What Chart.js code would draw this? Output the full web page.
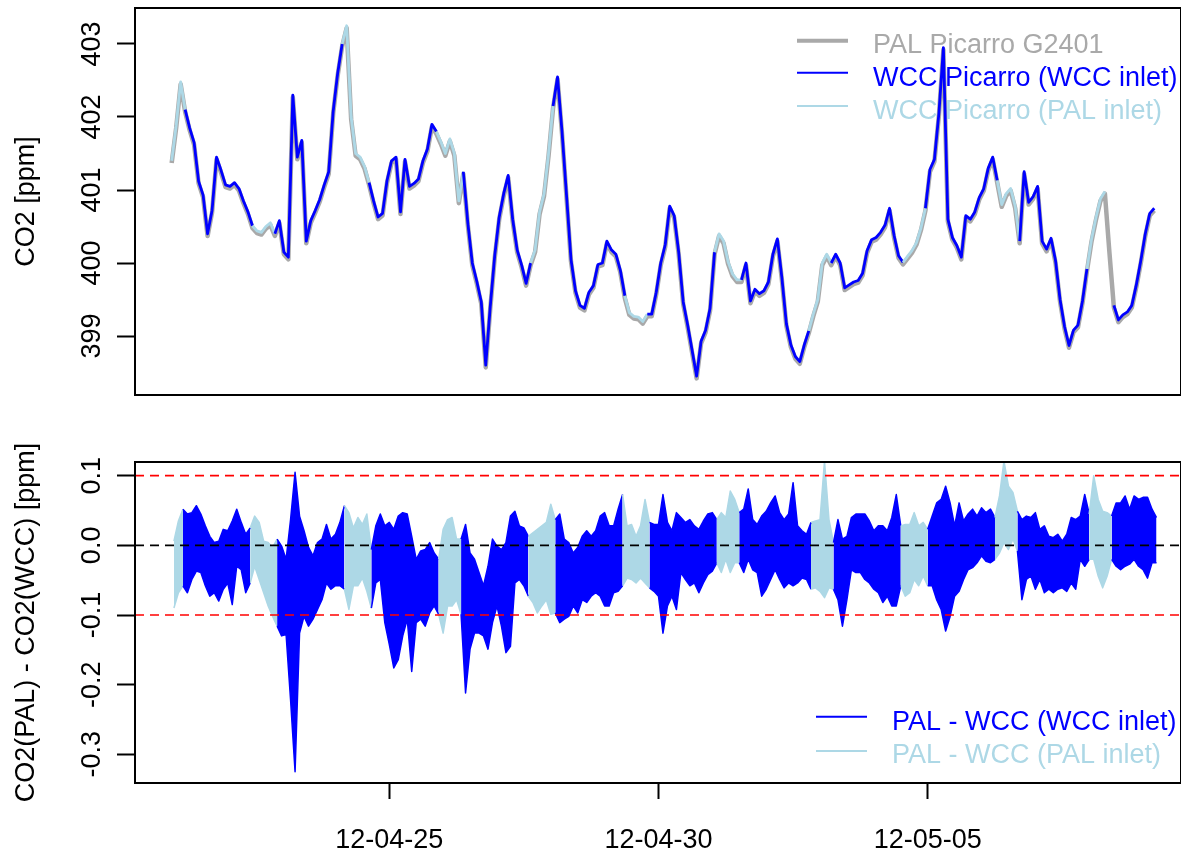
<!DOCTYPE html>
<html>
<head>
<meta charset="utf-8">
<script src="https://cdn.jsdelivr.net/npm/chart.js@4.4.0/dist/chart.umd.min.js"></script>
<style>
  html, body { margin: 0; padding: 0; background: #fff; overflow: hidden; }
  #wrap { position: relative; width: 1181px; height: 851px; }
  canvas { position: absolute; left: 0; }
  #co2 { top: 0; }
  #diff { top: 430px; }
</style>
</head>
<body>
<div id="wrap">
  <canvas id="co2" width="1181" height="430"></canvas>
  <canvas id="diff" width="1181" height="421"></canvas>
</div>
<script>
// ---- time base: 2-hourly values from the series start ----
const seriesStart = '2012-04-20 23:00';
const stepHours = 2;

// CO2 at the WCC Picarro [ppm] (null = no record)
const co2WCC = [
  401.40, 401.88, 402.48, 402.10, 401.85, 401.65, 401.12, 400.93, 400.40, 400.72,
  401.45, 401.27, 401.07, 401.05, 401.10, 401.02, 400.85, 400.70, 400.51, 400.44,
  400.42, 400.50, 400.55, 400.40, 400.58, 400.15, 400.08, 402.30, 401.45, 401.68,
  400.30, 400.58, 400.72, 400.87, 401.07, 401.25, 402.08, 402.60, 403.00, 403.25,
  402.00, 401.50, 401.45, 401.32, 401.10, 400.85, 400.63, 400.68, 401.13, 401.40,
  401.45, 400.70, 401.42, 401.05, 401.09, 401.15, 401.40, 401.56, 401.90, 401.80,
  401.66, 401.50, 401.70, 401.50, 400.85, 401.25, 400.55, 400.00, 399.75, 399.47,
  398.60, 399.40, 400.10, 400.63, 400.95, 401.20, 400.60, 400.18, 399.97, 399.72,
  400.00, 400.18, 400.70, 400.95, 401.50, 402.15, 402.55, 401.80, 400.93, 400.05,
  399.62, 399.42, 399.38, 399.60, 399.69, 399.98, 400.00, 400.30, 400.18, 400.12,
  399.90, 399.55, 399.32, 399.27, 399.26, 399.20, 399.30, 399.30, 399.60, 400.00,
  400.25, 400.78, 400.65, 400.15, 399.47, 399.15, 398.80, 398.45, 398.93, 399.08,
  399.38, 400.15, 400.40, 400.30, 400.02, 399.85, 399.77, 399.77, 400.00, 399.48,
  399.64, 399.58, 399.62, 399.74, 400.12, 400.33, 399.80, 399.17, 398.88, 398.72,
  398.65, 398.88, 399.07, 399.30, 399.50, 400.00, 400.12, 400.00, 400.12, 400.00,
  399.66, 399.70, 399.74, 399.76, 399.86, 400.17, 400.32, 400.35, 400.42, 400.52,
  400.75, 400.38, 400.10, 400.01, 400.09, 400.17, 400.28, 400.48, 400.75, 401.28,
  401.42, 402.05, 402.95, 400.60, 400.35, 400.24, 400.08, 400.65, 400.60, 400.70,
  400.90, 401.02, 401.30, 401.45, 401.13, 400.80, 400.95, 401.02, 400.78, 400.30,
  401.25, 400.83, 400.91, 401.05, 400.30, 400.19, 400.34, 400.03, 399.50, 399.13,
  398.87, 399.08, 399.15, 399.48, 399.92, 400.32, 400.62, 400.88, 400.98, null,
  399.42, 399.22, 399.29, 399.33, 399.42, 399.70, 400.03, 400.40, 400.68, 400.75
];

// CO2 at the PAL Picarro G2401 [ppm]
const co2PAL = [
  401.37, 401.85, 402.45, 402.07, 401.82, 401.62, 401.09, 400.90, 400.37, 400.69,
  401.42, 401.24, 401.04, 401.02, 401.07, 400.99, 400.82, 400.67, 400.48, 400.41,
  400.39, 400.47, 400.52, 400.37, 400.55, 400.12, 400.05, 402.27, 401.42, 401.65,
  400.27, 400.55, 400.69, 400.84, 401.04, 401.22, 402.05, 402.57, 402.97, 403.22,
  401.97, 401.47, 401.42, 401.29, 401.07, 400.82, 400.60, 400.65, 401.10, 401.37,
  401.42, 400.67, 401.39, 401.02, 401.06, 401.12, 401.37, 401.53, 401.87, 401.77,
  401.63, 401.47, 401.67, 401.47, 400.82, 401.22, 400.52, 399.97, 399.72, 399.44,
  398.57, 399.37, 400.07, 400.60, 400.92, 401.17, 400.57, 400.15, 399.94, 399.69,
  399.97, 400.15, 400.67, 400.92, 401.47, 402.12, 402.52, 401.77, 400.90, 400.02,
  399.59, 399.39, 399.35, 399.57, 399.66, 399.95, 399.97, 400.27, 400.15, 400.09,
  399.87, 399.52, 399.29, 399.24, 399.23, 399.17, 399.27, 399.27, 399.57, 399.97,
  400.22, 400.75, 400.62, 400.12, 399.44, 399.12, 398.77, 398.42, 398.90, 399.05,
  399.35, 400.12, 400.37, 400.27, 399.99, 399.82, 399.74, 399.74, 399.97, 399.45,
  399.61, 399.55, 399.59, 399.71, 400.09, 400.30, 399.77, 399.14, 398.85, 398.69,
  398.62, 398.85, 399.04, 399.27, 399.47, 399.97, 400.09, 399.97, 400.09, 399.97,
  399.63, 399.67, 399.71, 399.73, 399.83, 400.14, 400.29, 400.32, 400.39, 400.49,
  400.72, 400.35, 400.07, 399.98, 400.06, 400.14, 400.25, 400.45, 400.72, 401.25,
  401.39, 402.02, 402.92, 400.57, 400.32, 400.21, 400.05, 400.62, 400.57, 400.67,
  400.87, 400.99, 401.27, 401.42, 401.10, 400.77, 400.92, 400.99, 400.75, 400.27,
  401.22, 400.80, 400.88, 401.02, 400.27, 400.16, 400.31, 400.00, 399.47, 399.10,
  398.84, 399.05, 399.12, 399.45, 399.89, 400.29, 400.59, 400.85, 400.95, 400.15,
  399.39, 399.19, 399.26, 399.30, 399.39, 399.67, 400.00, 400.37, 400.65, 400.72
];

// PAL - WCC difference [ppm]: highest and lowest value in each 2-hour slot
const diffHigh = [
  0.006, 0.035, 0.052, 0.045, 0.047, 0.057, 0.045, 0.028, 0.013, 0.004,
  0.006, 0.023, 0.021, 0.035, 0.052, 0.033, 0.016, 0.025, 0.042, 0.033,
  0.006, 0.004, -0.003, 0.009, -0.001, -0.020, 0.037, 0.105, 0.042, 0.021,
  -0.003, -0.015, 0.004, 0.009, 0.030, 0.009, 0.016, 0.033, 0.057, 0.047,
  0.025, 0.040, 0.030, 0.045, -0.006, 0.028, 0.045, 0.028, 0.033, 0.023,
  0.042, 0.047, 0.045, 0.013, -0.020, -0.008, -0.006, 0.004, -0.011, -0.020,
  0.023, 0.037, 0.040, 0.009, 0.009, 0.030, -0.011, -0.020, -0.039, -0.058,
  -0.030, 0.009, -0.001, -0.006, 0.004, 0.042, 0.049, 0.028, 0.025, 0.013,
  0.018, 0.023, 0.028, 0.033, 0.059, 0.037, 0.045, 0.009, 0.004, -0.011,
  -0.003, 0.013, 0.021, 0.013, 0.021, 0.042, 0.047, 0.028, 0.028, 0.052,
  0.073, 0.028, 0.030, 0.013, 0.028, 0.066, 0.033, 0.030, 0.030, 0.073,
  0.033, 0.021, 0.047, 0.040, 0.033, 0.037, 0.028, 0.023, 0.035, 0.045,
  0.047, 0.037, 0.047, 0.040, 0.078, 0.066, 0.047, 0.052, 0.081, 0.037,
  0.030, 0.042, 0.049, 0.061, 0.071, 0.047, 0.037, 0.045, 0.090, 0.028,
  0.021, 0.016, 0.033, 0.035, 0.037, 0.121, 0.037, 0.004, 0.037, 0.009,
  0.013, 0.040, 0.045, 0.045, 0.045, 0.035, 0.021, 0.028, 0.028, 0.021,
  0.040, 0.073, 0.028, 0.030, 0.030, 0.047, 0.028, 0.033, 0.023, 0.042,
  0.061, 0.066, 0.085, 0.061, 0.028, 0.061, 0.035, 0.045, 0.052, 0.042,
  0.054, 0.047, 0.052, 0.040, 0.071, 0.121, 0.085, 0.076, 0.049, 0.037,
  0.042, 0.040, 0.047, 0.023, 0.028, 0.013, 0.011, 0.016, 0.006, 0.016,
  0.040, 0.037, 0.042, 0.073, 0.045, 0.100, 0.066, 0.049, 0.047, 0.042,
  0.061, 0.061, 0.071, 0.052, 0.071, 0.066, 0.069, 0.069, 0.052, 0.040
];
const diffLow = [
  -0.090, -0.068, -0.058, -0.068, -0.049, -0.037, -0.039, -0.058, -0.073, -0.068,
  -0.080, -0.063, -0.054, -0.085, -0.030, -0.035, -0.068, -0.054, -0.030, -0.049,
  -0.068, -0.087, -0.102, -0.116, -0.130, -0.128, -0.222, -0.325, -0.126, -0.102,
  -0.116, -0.106, -0.092, -0.078, -0.054, -0.063, -0.058, -0.058, -0.063, -0.092,
  -0.058, -0.058, -0.047, -0.066, -0.090, -0.054, -0.049, -0.111, -0.142, -0.176,
  -0.164, -0.130, -0.106, -0.181, -0.111, -0.106, -0.116, -0.097, -0.087, -0.099,
  -0.126, -0.087, -0.087, -0.078, -0.099, -0.212, -0.149, -0.126, -0.126, -0.130,
  -0.149, -0.111, -0.087, -0.116, -0.154, -0.145, -0.054, -0.049, -0.058, -0.073,
  -0.082, -0.097, -0.087, -0.078, -0.099, -0.097, -0.111, -0.106, -0.102, -0.087,
  -0.097, -0.078, -0.082, -0.073, -0.068, -0.073, -0.087, -0.087, -0.068, -0.066,
  -0.058, -0.047, -0.049, -0.054, -0.047, -0.054, -0.061, -0.066, -0.073, -0.126,
  -0.087, -0.073, -0.092, -0.039, -0.049, -0.058, -0.054, -0.068, -0.054, -0.042,
  -0.037, -0.025, -0.039, -0.020, -0.039, -0.025, -0.025, -0.039, -0.020, -0.035,
  -0.039, -0.073, -0.063, -0.049, -0.035, -0.049, -0.061, -0.054, -0.058, -0.054,
  -0.047, -0.049, -0.063, -0.061, -0.066, -0.075, -0.061, -0.063, -0.078, -0.116,
  -0.078, -0.035, -0.039, -0.039, -0.049, -0.054, -0.063, -0.068, -0.082, -0.073,
  -0.087, -0.087, -0.058, -0.073, -0.068, -0.049, -0.058, -0.044, -0.058, -0.058,
  -0.078, -0.092, -0.123, -0.102, -0.073, -0.066, -0.049, -0.035, -0.032, -0.025,
  -0.015, -0.023, -0.025, -0.020, -0.011, 0.004, -0.006, 0.009, -0.008, -0.078,
  -0.049, -0.044, -0.063, -0.049, -0.068, -0.063, -0.068, -0.063, -0.061, -0.066,
  -0.054, -0.063, -0.020, -0.030, -0.020, -0.020, -0.044, -0.061, -0.044, -0.020,
  -0.030, -0.035, -0.030, -0.027, -0.020, -0.030, -0.035, -0.047, -0.025, -0.025
];

// periods when the WCC analyser sampled through the PAL inlet
const palInletFrom = ['2012-04-20 23:00', '2012-04-22 10:00', '2012-04-24 03:00', '2012-04-25 21:00',
                      '2012-04-27 14:00', '2012-04-29 08:00', '2012-05-01 01:00', '2012-05-02 19:00',
                      '2012-05-04 12:00', '2012-05-06 06:00', '2012-05-07 23:00'];
const palInletTo   = ['2012-04-21 04:00', '2012-04-22 21:00', '2012-04-24 15:00', '2012-04-26 08:00',
                      '2012-04-28 01:00', '2012-04-29 19:00', '2012-05-01 12:00', '2012-05-03 05:00',
                      '2012-05-04 23:00', '2012-05-06 16:00', '2012-05-08 10:00'];

// axes
const xAxisFrom = '2012-04-20 06:39';
const xAxisTo = '2012-05-09 16:55';
const dateTicks = ['2012-04-25', '2012-04-30', '2012-05-05'];
const dateTickLabels = ['12-04-25', '12-04-30', '12-05-05'];
const co2Ticks = [399, 400, 401, 402, 403];
const co2TickLabels = ['399', '400', '401', '402', '403'];
const diffTicks = [-0.3, -0.2, -0.1, 0.0, 0.1];
const diffTickLabels = ['-0.3', '-0.2', '-0.1', '0.0', '0.1'];
const limitLevels = [0.1, -0.1];
const zeroLevel = 0;

const co2Legend = ['PAL Picarro G2401', 'WCC Picarro (WCC inlet)', 'WCC Picarro (PAL inlet)'];
const diffLegend = ['PAL - WCC (WCC inlet)', 'PAL - WCC (PAL inlet)'];

// ---- styling ----
const BLUE = '#0000FF', LIGHTBLUE = '#ADD8E6', GREY = '#A9A9A9', RED = '#FF0000', BLACK = '#000000';
const FONT = '27px "Liberation Sans", Arial, Helvetica, sans-serif';
const HOUR = 3600 * 1000;

function toMs(s) {
  const [d, t = '00:00'] = s.split(' ');
  const [Y, M, D] = d.split('-').map(Number);
  const [h, m] = t.split(':').map(Number);
  return Date.UTC(Y, M - 1, D, h, m);
}
const t0 = toMs(seriesStart);
const timeAt = i => t0 + i * stepHours * HOUR;
const xMin = toMs(xAxisFrom), xMax = toMs(xAxisTo);

const palFrom = palInletFrom.map(toMs), palTo = palInletTo.map(toMs);
const onPalInlet = t => palFrom.some((f, k) => t >= f && t < palTo[k]);
const inletColour = ctx => onPalInlet(ctx.p0.parsed.x) ? LIGHTBLUE : BLUE;

const wccPoints = co2WCC.map((v, i) => ({ x: timeAt(i), y: v }));
const palPoints = co2PAL.map((v, i) => ({ x: timeAt(i), y: v }));
// slot envelopes, placed at the middle of each 2-hour slot
const highPoints = diffHigh.map((v, i) => ({ x: timeAt(i) + HOUR, y: v }));
const lowPoints = diffLow.map((v, i) => ({ x: timeAt(i) + HOUR, y: v }));
const level = v => [{ x: xMin, y: v }, { x: xMax, y: v }];

function upText(ctx, text, x, y) {
  ctx.save();
  ctx.translate(x, y);
  ctx.rotate(-Math.PI / 2);
  ctx.textAlign = 'center';
  ctx.textBaseline = 'alphabetic';
  ctx.fillText(text, 0, 0);
  ctx.restore();
}

// frame, tick labels, axis title and legend in base-graphics style
function decor(o) {
  return {
    id: 'decor',
    afterDraw(chart) {
      const { ctx, chartArea: a, scales } = chart;
      ctx.save();
      ctx.strokeStyle = BLACK;
      ctx.lineWidth = 2;
      ctx.strokeRect(a.left, a.top, a.right - a.left, a.bottom - a.top);
      ctx.font = FONT;
      ctx.fillStyle = BLACK;
      o.yTicks.forEach((v, k) => upText(ctx, o.yLabels[k], 100, scales.y.getPixelForValue(v)));
      upText(ctx, o.yTitle, 33.5, (a.top + a.bottom) / 2);
      if (o.xTicks) {
        ctx.textAlign = 'center';
        ctx.textBaseline = 'alphabetic';
        o.xTicks.forEach((t, k) => ctx.fillText(o.xLabels[k], scales.x.getPixelForValue(t), a.bottom + 65));
      }
      o.legend.forEach(it => {
        ctx.strokeStyle = it.colour;
        ctx.lineWidth = it.width;
        ctx.beginPath();
        ctx.moveTo(o.legendX0, it.lineY);
        ctx.lineTo(o.legendX1, it.lineY);
        ctx.stroke();
        ctx.fillStyle = it.colour;
        ctx.textAlign = 'left';
        ctx.textBaseline = 'alphabetic';
        ctx.fillText(it.text, o.legendTextX, it.baseY);
      });
      ctx.restore();
    }
  };
}

const yAxisBase = (ticks, min, max) => ({
  min, max,
  afterBuildTicks: s => { s.ticks = ticks.map(v => ({ value: v })); },
  afterFit: s => { s.width = 135; },
  ticks: { display: false },
  border: { display: false },
  grid: { drawOnChartArea: false, drawTicks: true, tickLength: 18, tickWidth: 2, tickColor: BLACK }
});

const common = {
  responsive: false,
  animation: false,
  devicePixelRatio: 1,
  events: [],
  elements: { point: { radius: 0 }, line: { tension: 0, fill: false, borderJoinStyle: 'round' } },
  plugins: { legend: { display: false }, tooltip: { enabled: false } }
};

// ---- upper panel: CO2 time series ----
new Chart(document.getElementById('co2'), {
  type: 'line',
  data: {
    datasets: [
      { label: co2Legend[1], data: wccPoints, borderColor: BLUE, borderWidth: 2.8,
        spanGaps: false, segment: { borderColor: inletColour } },
      { label: co2Legend[0], data: palPoints, borderColor: GREY, borderWidth: 4.5 }
    ]
  },
  options: {
    ...common,
    layout: { padding: { top: 8, bottom: 35, left: 0, right: 0 } },
    scales: {
      x: { type: 'linear', min: xMin, max: xMax, display: false },
      y: yAxisBase(co2Ticks, 398.192, 403.493)
    }
  },
  plugins: [decor({
    yTicks: co2Ticks, yLabels: co2TickLabels, yTitle: 'CO2 [ppm]',
    legendX0: 797, legendX1: 848, legendTextX: 873,
    legend: [
      { text: co2Legend[0], colour: GREY, width: 4, lineY: 40.7, baseY: 52.7 },
      { text: co2Legend[1], colour: BLUE, width: 2, lineY: 72.7, baseY: 86 },
      { text: co2Legend[2], colour: LIGHTBLUE, width: 2, lineY: 106, baseY: 119.3 }
    ]
  })]
});

// ---- lower panel: PAL - WCC difference ----
new Chart(document.getElementById('diff'), {
  type: 'line',
  data: {
    datasets: [
      { data: level(limitLevels[0]), borderColor: RED, borderWidth: 1.7, borderDash: [9, 6] },
      { data: level(zeroLevel), borderColor: BLACK, borderWidth: 1.7, borderDash: [9, 6] },
      { data: level(limitLevels[1]), borderColor: RED, borderWidth: 1.7, borderDash: [9, 6] },
      { label: diffLegend[0], data: highPoints, borderColor: BLUE, backgroundColor: BLUE,
        borderWidth: 1.5, fill: '+1',
        segment: { borderColor: inletColour, backgroundColor: inletColour } },
      { label: diffLegend[1], data: lowPoints, borderColor: BLUE, borderWidth: 1.5,
        segment: { borderColor: inletColour } }
    ]
  },
  options: {
    ...common,
    layout: { padding: { top: 32, bottom: 0, left: 0, right: 0 } },
    scales: {
      x: {
        type: 'linear', min: xMin, max: xMax,
        afterBuildTicks: s => { s.ticks = dateTicks.map(d => ({ value: toMs(d) })); },
        afterFit: s => { s.height = 68; },
        ticks: { display: false },
        border: { display: false },
        grid: { drawOnChartArea: false, drawTicks: true, tickLength: 16, tickWidth: 2, tickColor: BLACK }
      },
      y: yAxisBase(diffTicks, -0.3412, 0.1197)
    }
  },
  plugins: [decor({
    yTicks: diffTicks, yLabels: diffTickLabels, yTitle: 'CO2(PAL) - CO2(WCC) [ppm]',
    xTicks: dateTicks.map(toMs), xLabels: dateTickLabels,
    legendX0: 816, legendX1: 867, legendTextX: 892,
    legend: [
      { text: diffLegend[0], colour: BLUE, width: 2, lineY: 286.7, baseY: 300 },
      { text: diffLegend[1], colour: LIGHTBLUE, width: 2, lineY: 321, baseY: 332.7 }
    ]
  })]
});
</script>
</body>
</html>
